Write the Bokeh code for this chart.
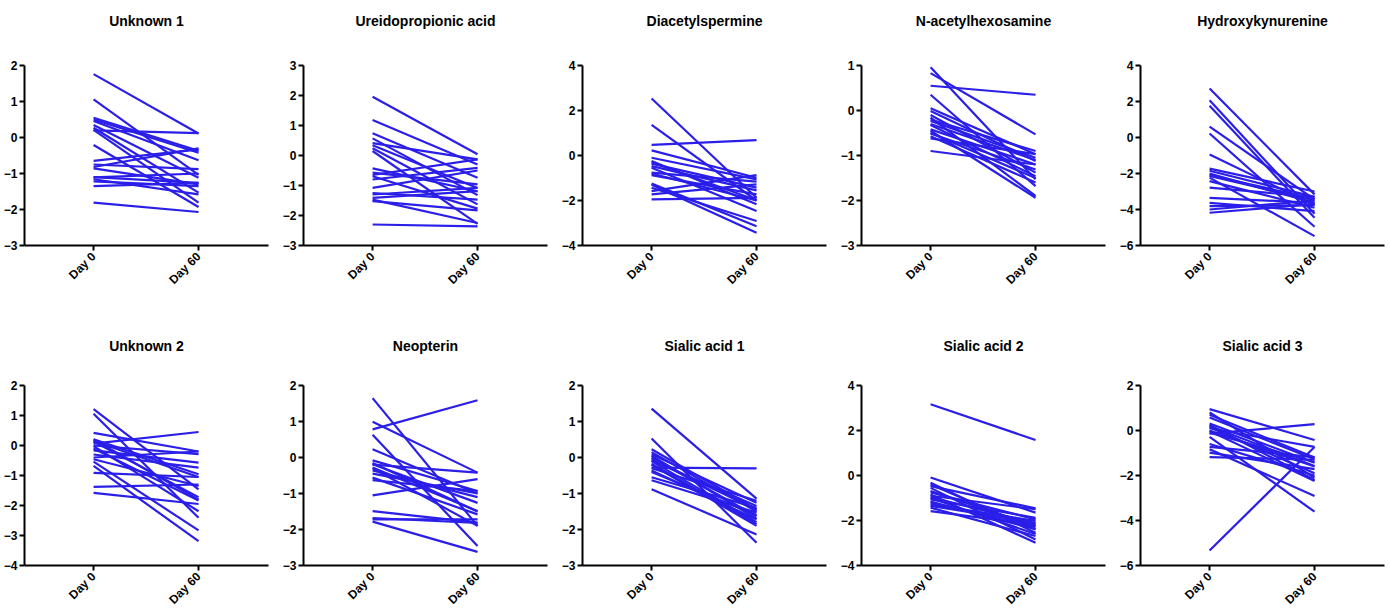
import math
from bokeh.plotting import figure
from bokeh.layouts import column, row
from bokeh.models import Range1d, FixedTicker, Title
from bokeh.embed import file_html
from bokeh.resources import INLINE

# ---------------- data ----------------
days = [0, 60]
day_labels = ["Day 0", "Day 60"]

titles = ["Unknown 1", "Ureidopropionic acid", "Diacetylspermine", "N-acetylhexosamine",
          "Hydroxykynurenine", "Unknown 2", "Neopterin", "Sialic acid 1", "Sialic acid 2",
          "Sialic acid 3"]

y_limits = [(-3, 2, 1), (-3, 3, 1), (-4, 4, 2), (-3, 1, 1), (-6, 4, 2),
            (-4, 2, 1), (-3, 2, 1), (-3, 2, 1), (-4, 4, 2), (-6, 2, 2)]

unknown1_day0 = [1.76, 1.06, 0.55, 0.50, 0.46, 0.35, 0.27, 0.21, 0.20, -0.21,
                 -0.65, -0.75, -0.82, -0.86, -1.10, -1.11, -1.16, -1.22, -1.35, -1.81]
unknown1_day60 = [0.11, -1.04, -0.37, -0.42, -0.63, -1.12, -1.53, -1.81, 0.12, -1.93,
                  -0.33, -0.88, -0.30, -1.30, -1.26, -1.00, -1.58, -1.35, -1.26, -2.07]

ureido_day0 = [1.96, 1.18, 0.74, 0.57, 0.41, 0.34, 0.24, 0.15, -0.43, -0.57,
               -0.69, -0.80, -1.08, -1.25, -1.30, -1.41, -1.47, -1.52, -2.30, -0.65]
ureido_day60 = [0.04, -0.30, -0.74, -1.32, -0.13, -1.08, -1.63, -2.28, -1.19, -0.96,
                -1.77, -0.41, -0.50, -1.47, -1.08, -1.19, -2.25, -1.83, -2.36, -0.13]

diacetyl_day0 = [2.53, 1.36, 0.47, 0.23, -0.10, -0.24, -0.36, -0.47, -0.54, -0.76,
                 -0.87, -1.25, -1.43, -1.58, -1.73, -1.95, -1.30, -0.30, -0.80]
diacetyl_day60 = [-1.88, -2.00, 0.68, -0.99, -1.06, -2.17, -1.43, -1.55, -2.47, -1.16,
                  -1.73, -3.14, -2.91, -0.87, -1.28, -1.88, -3.43, -1.99, -2.00]

acetylhex_day0 = [0.96, 0.83, 0.55, 0.35, 0.05, -0.01, -0.10, -0.16, -0.23, -0.32,
                  -0.42, -0.45, -0.51, -0.57, -0.62, -0.90, -0.30, -0.50, -0.20]
acetylhex_day60 = [-1.53, -0.53, 0.35, -1.68, -0.97, -1.12, -1.38, -1.90, -1.05, -1.46,
                   -1.20, -1.94, -1.31, -1.60, -0.97, -1.20, -1.10, -1.50, -0.90]

hydroxy_day0 = [2.72, 2.07, 1.76, 0.60, 0.22, -0.94, -1.73, -1.85, -2.01, -2.14,
                -2.23, -2.42, -2.79, -3.35, -3.63, -3.81, -4.00, -4.18, -2.10]
hydroxy_day60 = [-3.16, -4.24, -4.46, -3.44, -4.96, -3.76, -3.00, -3.30, -3.63, -3.50,
                 -5.48, -3.90, -3.30, -3.63, -4.09, -3.76, -3.50, -3.70, -3.40]

unknown2_day0 = [1.21, 1.06, 0.42, 0.21, 0.13, 0.06, -0.02, -0.16, 0.15, -0.10,
                 -0.30, -0.46, -0.54, -0.68, -0.91, -1.38, -1.58, -0.40, 0.20, 0.00]
unknown2_day60 = [-1.46, -2.41, -0.20, -0.96, -1.72, 0.45, -2.19, -0.57, -1.05, -1.83,
                  -0.74, -1.35, -2.83, -3.19, -1.05, -1.30, -1.95, -0.20, -1.80, -0.29]

neopterin_day0 = [1.65, 0.99, 0.78, 0.63, 0.23, -0.20, -0.08, -0.19, -0.28, -0.36,
                  -0.56, -0.63, -1.05, -1.49, -1.72, -1.78, -0.45, -0.15, -0.30, -1.68]
neopterin_day60 = [-1.90, -0.42, 1.59, -2.46, -1.00, -0.42, -0.93, -1.26, -1.49, -1.10,
                   -1.58, -0.93, -0.60, -1.81, -1.72, -2.62, -1.00, -1.50, -1.90, -1.82]

sialic1_day0 = [1.36, 0.53, 0.23, 0.09, 0.00, -0.08, -0.28, -0.36, -0.63, -0.88,
                -0.20, -0.10, 0.15, -0.40, -0.55, 0.05, -0.30, -0.05, -0.17]
sialic1_day60 = [-1.14, -2.37, -1.44, -1.26, -1.63, -1.35, -0.30, -1.72, -1.53, -2.14,
                 -1.90, -1.80, -1.50, -1.60, -1.40, -1.70, -1.20, -1.45, -1.85]

sialic2_day0 = [3.17, -0.09, -0.32, -0.47, -0.69, -0.84, -0.96, -1.06, -1.16, -1.28,
                -1.43, -1.58, -0.55, -0.75, -1.00, -1.20, -1.35, -0.90, -0.40]
sialic2_day60 = [1.58, -1.65, -2.54, -1.46, -2.25, -2.99, -2.14, -1.88, -2.39, -2.02,
                 -2.69, -2.20, -2.84, -1.95, -2.60, -2.30, -2.10, -1.50, -2.40]

sialic3_day0 = [0.95, 0.80, 0.58, 0.31, 0.20, 0.10, -0.02, -0.14, -0.28, -0.73,
                -0.83, -0.98, -1.18, -5.33, 0.15, 0.00, 0.25, -0.10, 0.70, -0.60]
sialic3_day60 = [-0.42, -2.10, -1.28, -1.43, -1.58, -0.73, -2.24, 0.28, -3.61, -1.18,
                 -2.91, -1.72, -1.30, -0.73, -1.90, -1.60, -2.20, -1.40, -1.20, -2.00]

series = [(unknown1_day0, unknown1_day60), (ureido_day0, ureido_day60),
          (diacetyl_day0, diacetyl_day60), (acetylhex_day0, acetylhex_day60),
          (hydroxy_day0, hydroxy_day60), (unknown2_day0, unknown2_day60),
          (neopterin_day0, neopterin_day60), (sialic1_day0, sialic1_day60),
          (sialic2_day0, sialic2_day60), (sialic3_day0, sialic3_day60)]

# ---------------- style ----------------
LINE_COLOR = "#2a1ee8"
FONT = "Liberation Sans"


def make_panel(title, d0, d60, lims, top_border, bottom_border, right_border,
               title_standoff, spacer):
    ymin, ymax, step = lims
    p = figure(frame_width=244, frame_height=180,
               x_range=Range1d(-39.5, 100), y_range=Range1d(ymin, ymax),
               output_backend="svg", toolbar_location=None,
               min_border_left=23, min_border_right=right_border,
               min_border_top=top_border, min_border_bottom=bottom_border,
               title=title)
    p.title.align = "center"
    p.title.text_font = FONT
    p.title.text_font_style = "bold"
    p.title.text_font_size = "14px"
    p.title.text_color = "black"
    p.title.standoff = title_standoff
    # empty spacer between the title and the plotting frame
    p.add_layout(Title(text=" ", text_font_size="1px", standoff=spacer), "above")

    xs = [days for _ in d0]
    ys = [[a, b] for a, b in zip(d0, d60)]
    p.multi_line(xs=xs, ys=ys, line_color=LINE_COLOR, line_width=2.2)

    p.xgrid.visible = False
    p.ygrid.visible = False
    p.outline_line_color = None

    p.xaxis.ticker = FixedTicker(ticks=days)
    p.xaxis.major_label_overrides = {d: lab for d, lab in zip(days, day_labels)}
    p.xaxis.major_label_orientation = math.pi / 4
    ticks = list(range(ymin, ymax + 1, step))
    p.yaxis.ticker = FixedTicker(ticks=ticks)

    for ax in (p.xaxis, p.yaxis):
        ax.axis_line_width = 2
        ax.axis_line_color = "black"
        ax.major_tick_line_width = 2
        ax.major_tick_line_color = "black"
        ax.major_tick_in = 0
        ax.major_tick_out = 5
        ax.minor_tick_line_color = None
        ax.major_label_text_font = FONT
        ax.major_label_text_font_style = "bold"
        ax.major_label_text_font_size = "12px"
        ax.major_label_text_color = "black"
    p.yaxis.major_label_standoff = 2
    p.xaxis.major_label_standoff = 4
    return p


rows = []
for r in range(2):
    figs = []
    for c in range(5):
        i = r * 5 + c
        d0, d60 = series[i]
        right = 7 if c == 4 else 11
        if r == 0:
            fp = make_panel(titles[i], d0, d60, y_limits[i], 65, 75, right, 19, 24)
        else:
            fp = make_panel(titles[i], d0, d60, y_limits[i], 65, 46, right, 29, 14)
        figs.append(fp)
    rows.append(row(*figs))

layout = column(*rows)

open("out.html", "w").write(file_html(layout, INLINE))
